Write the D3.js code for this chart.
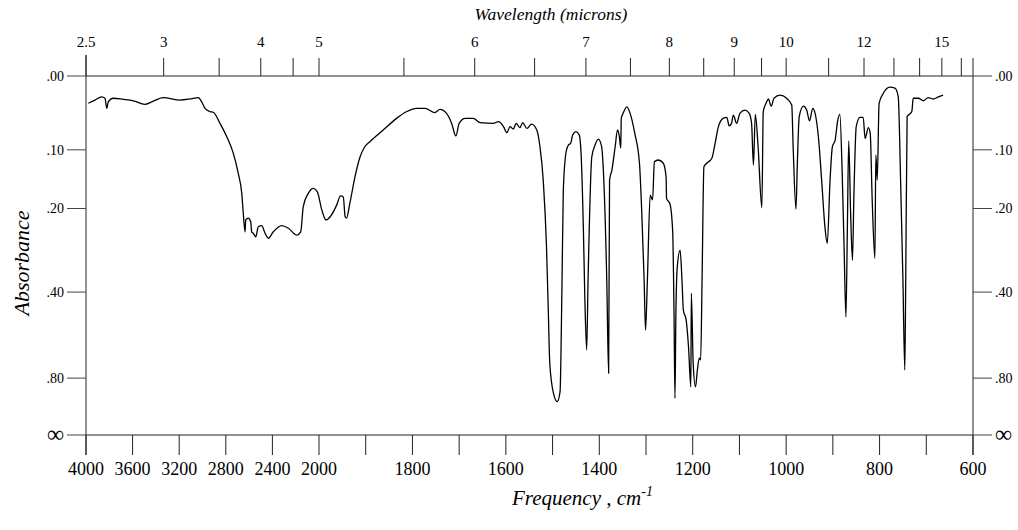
<!DOCTYPE html>
<html><head><meta charset="utf-8">
<script src="https://cdn.jsdelivr.net/npm/d3@7"></script>
<style>
body{margin:0;background:#fff}
</style>
</head><body>
<svg id="c" width="1018" height="530"></svg>
<script>
// Spectrum: wavenumber (cm-1) and transmittance (%)
const wavenumber = [
3980,3923,3865,3837,3822,3809,3766,3680,3594,3494,
3436,3336,3193,3107,3036,3007,2979,2936,2907,2850,
2792,2736,2693,2663,2650,2635,2629,2607,2586,2578,
2564,2543,2521,2492,2463,2435,2392,2320,2263,2191,
2157,2135,2092,2049,2015,
1994,1985,1976,1962,1954,1948,1944,1941,1934,1923,
1912,1902,1891,1862,1834,1812,1791,1773,1752,1741,
1727,1716,1707,1700,1687,1670,1655,1627,1616,1605,
1598,1591,1584,1578,1570,1564,1555,1545,1534,1527,
1520,1513,1509,1506,1498,1490,1484,1480,1477,1471,
1466,1461,1457,1450,1443,1439,1434,1431,1427,1424,
1416,1409,1402,1395,1391,1384,1380,1378,1373,1366,
1361,1357,1354,1353,1349,1341,1334,1324,1314,1309,
1304,1301,1297,1291,1286,1282,1274,1263,1257,1256,
1249,1243,1240,1238,1236,1233,1227,1223,1220,1214,
1209,1204,1203,1199,1194,1190,1186,1183,1180,1176,
1170,1159,1152,1145,1135,1127,1122,1117,1113,1106,
1099,1088,1079,1074,1070,1066,1060,1052,1049,1043,
1038,1032,1026,1013,999,988,985,979,976,972,
963,956,950,943,938,931,924,917,912,906,
901,895,890,885,880,876,872,869,866,862,
858,855,850,842,835,831,824,820,816,810,
808,805,801,792,778,767,760,755,750,746,
744,741,731,728,717,706,696,685,674,664];
const transmittance = [
92.4,93.3,94.2,93.8,91.0,92.8,93.8,93.5,93.1,92.1,
92.8,94.0,93.3,93.6,94.0,92.8,91.0,90.1,89.9,86.8,
83.1,78.5,72.9,67.3,61.8,56.6,59.9,60.4,59.4,56.6,
56.2,55.2,58.0,58.3,56.2,54.8,56.6,58.3,57.6,55.7,
56.6,63.6,67.3,68.7,67.8,
62.7,59.9,60.8,64.1,66.6,66.3,60.8,60.4,64.5,71.9,
77.5,80.3,81.7,85.0,88.2,90.1,91.0,91.0,89.8,90.7,
89.6,86.8,83.3,86.8,88.2,88.2,87.0,86.8,87.3,85.9,
84.2,85.9,85.2,86.8,85.6,87.0,85.4,86.6,85.0,80.3,
71.0,52.4,33.9,20.0,11.6,9.3,12.0,40.4,68.2,78.9,
80.8,81.3,83.6,84.5,83.6,78.5,57.1,38.5,23.7,43.2,
77.5,80.8,82.4,80.3,72.9,43.2,17.2,71.0,73.8,80.3,
85.0,83.1,79.9,88.2,89.6,91.4,89.6,84.0,75.7,61.8,
43.2,29.2,43.2,66.8,65.5,76.1,76.6,75.7,71.9,65.9,
64.5,57.1,33.9,10.2,33.9,46.9,51.5,43.2,34.8,32.0,
24.6,13.4,39.5,20.0,13.4,18.1,21.4,20.9,43.2,74.7,
75.7,77.1,81.3,85.9,88.2,88.5,86.1,86.8,89.1,86.8,
89.6,90.5,89.6,86.8,75.2,89.3,80.3,63.3,90.1,92.4,
93.6,91.6,93.8,94.7,93.8,91.9,80.3,62.9,75.7,88.7,
91.6,90.5,87.5,91.0,89.6,83.1,71.0,58.0,53.4,71.0,
80.3,82.2,87.3,89.3,72.9,52.4,32.9,57.1,81.9,61.8,
48.7,66.4,85.9,88.5,88.5,82.6,85.6,84.0,66.4,49.2,
78.0,71.0,92.4,95.2,96.9,96.6,94.2,71.0,43.2,18.1,
43.2,88.7,90.1,93.8,93.8,93.1,94.0,93.6,94.2,94.7];

const freqTicks = [4000,3600,3200,2800,2400,2000,1900,1800,1700,1600,1500,1400,1300,1200,1100,1000,900,800,700,600];
const freqLabels = [4000,3600,3200,2800,2400,2000,1800,1600,1400,1200,1000,800,600];
const waveTicks = [2.5,3,3.5,4,4.5,5,5.5,6,6.5,7,7.5,8,8.5,9,9.5,10,11,12,13,14,15,16];
const waveLabels = [2.5,3,4,5,6,7,8,9,10,12,15];
const absTicks = [0, 0.1, 0.2, 0.4, 0.8, Infinity];
const absLabels = [".00", ".10", ".20", ".40", ".80", "\u221E"];

// pick an installed serif face (Times-like) if one exists
function pickFont() {
  const cands = ["Liberation Serif", "Tinos", "Times New Roman", "Times", "Nimbus Roman", "Nimbus Roman No9 L",
                 "FreeSerif", "Noto Serif", "DejaVu Serif", "Bitstream Vera Serif"];
  const ctx = document.createElement("canvas").getContext("2d");
  const s = "Wavelength 4000 Absorbance mmmiiilll";
  const base = {};
  ["monospace", "sans-serif"].forEach(b => { ctx.font = "40px " + b; base[b] = ctx.measureText(s).width; });
  for (const c of cands) {
    let found = false;
    ["monospace", "sans-serif"].forEach(b => {
      ctx.font = "40px '" + c + "', " + b;
      if (ctx.measureText(s).width !== base[b]) found = true;
    });
    if (found) return "'" + c + "', serif";
  }
  return "serif";
}
const FONT = pickFont();

const svg = d3.select("#c");
const L = 86, R = 973, T = 76, B = 435;
const x = d3.scaleLinear().domain([4000, 2000, 600]).range([L, (L + (R - L) * 233 / 887), R]);
const y = d3.scaleLinear().domain([100, 0]).range([T, B]);
const yA = a => y(100 * Math.pow(10, -a));

const ax = "#222";
// frame
svg.append("line").attr("x1", L).attr("x2", R).attr("y1", T).attr("y2", T).attr("stroke", ax);
svg.append("line").attr("x1", L).attr("x2", R).attr("y1", B).attr("y2", B).attr("stroke", ax);
svg.append("line").attr("x1", L).attr("x2", L).attr("y1", T - 21).attr("y2", B + 20).attr("stroke", ax);
svg.append("line").attr("x1", R).attr("x2", R).attr("y1", T - 18).attr("y2", B + 20).attr("stroke", ax);

// bottom axis
const gBottom = svg.append("g");
gBottom.selectAll("line").data(freqTicks).join("line")
  .attr("x1", d => x(d)).attr("x2", d => x(d)).attr("y1", B).attr("y2", B + 20).attr("stroke", ax);
gBottom.selectAll("text").data(freqLabels).join("text")
  .attr("x", d => x(d)).attr("y", 475).attr("text-anchor", "middle")
  .style("font-family", FONT).style("font-size", "18px").text(d => d);

// top axis (wavelength in microns)
const gTop = svg.append("g");
gTop.selectAll("line").data(waveTicks).join("line")
  .attr("x1", d => x(10000 / d)).attr("x2", d => x(10000 / d))
  .attr("y1", T).attr("y2", d => d === 2.5 ? T - 21 : T - 18).attr("stroke", ax);
gTop.selectAll("text").data(waveLabels).join("text")
  .attr("x", d => x(10000 / d)).attr("y", 47).attr("text-anchor", "middle")
  .style("font-family", FONT).style("font-size", "15px").text(d => d);

// absorbance axes
absTicks.forEach((a, i) => {
  const yy = yA(a);
  svg.append("line").attr("x1", L - 19).attr("x2", L).attr("y1", yy).attr("y2", yy).attr("stroke", "#444");
  svg.append("line").attr("x1", R).attr("x2", R + 19).attr("y1", yy).attr("y2", yy).attr("stroke", "#444");
  const inf = !isFinite(a);
  svg.append("text").attr("x", L - 22).attr("y", yy).attr("dy", inf ? "0.3em" : "0.35em")
    .attr("text-anchor", "end").style("font-family", FONT).style("font-size", inf ? "24px" : "14px").text(absLabels[i]);
  svg.append("text").attr("x", R + 22).attr("y", yy).attr("dy", inf ? "0.3em" : "0.35em")
    .attr("text-anchor", "start").style("font-family", FONT).style("font-size", inf ? "24px" : "14px").text(absLabels[i]);
});

// titles
svg.append("text").attr("x", 551).attr("y", 20).attr("text-anchor", "middle")
  .style("font-family", FONT).style("font-size", "17.5px").style("font-style", "italic").text("Wavelength (microns)");
svg.append("text").attr("transform", "translate(29,263) rotate(-90)").attr("text-anchor", "middle")
  .style("font-family", FONT).style("font-size", "22px").style("font-style", "italic").text("Absorbance");
const ft = svg.append("text").attr("x", 512).attr("y", 505)
  .style("font-family", FONT).style("font-size", "21px").style("font-style", "italic");
ft.append("tspan").text("Frequency , cm");
ft.append("tspan").attr("dy", -9).style("font-size", "14px").text("-1");

// spectrum
const pts = d3.zip(wavenumber, transmittance);
const line = d3.line().x(d => x(d[0])).y(d => y(d[1])).curve(d3.curveMonotoneX);
svg.append("path").datum(pts).attr("d", line)
  .attr("fill", "none").attr("stroke", "#000").attr("stroke-width", 1.3).attr("stroke-linejoin", "round");
</script>
</body></html>
